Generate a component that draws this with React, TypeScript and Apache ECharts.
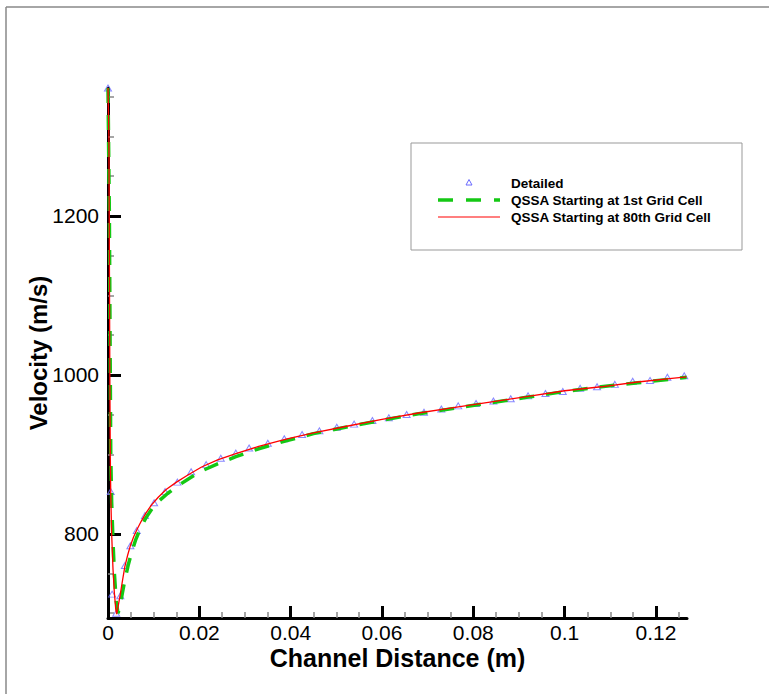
import React, { useEffect, useRef } from "react";
import * as echarts from "echarts";

// ---- data ----
const detailedX = [0, 0.0006, 0.0009, 0.0018, 0.0027, 0.0037, 0.0049, 0.0063, 0.0081, 0.0101, 0.0125, 0.0152, 0.0182, 0.0215, 0.0247, 0.028, 0.0309, 0.035, 0.0386, 0.0425, 0.0463, 0.0501, 0.0539, 0.0579, 0.0615, 0.0654, 0.0692, 0.073, 0.0767, 0.0806, 0.0844, 0.0882, 0.092, 0.0958, 0.0996, 0.1034, 0.1071, 0.111, 0.1149, 0.1187, 0.1225, 0.1262];
const detailedV = [1361, 853, 724, 700, 722, 760, 785, 804, 823, 839, 853, 865, 878, 887, 895, 901.5, 908, 914, 919.5, 925, 929.5, 934, 938, 942.5, 946, 950, 953, 957, 961, 964, 967, 970, 973.5, 976.5, 979, 983, 985, 988, 992, 993, 997, 998.7];

const qssa1stX = [0, 0.0003, 0.0005, 0.0006, 0.0008, 0.0011, 0.0014, 0.0018, 0.0022, 0.0026, 0.0031, 0.0037, 0.0044, 0.0052, 0.0061, 0.0071, 0.0083, 0.0097, 0.0113, 0.0131, 0.0152, 0.0176, 0.0205, 0.024, 0.028, 0.033, 0.039, 0.045, 0.052, 0.06, 0.068, 0.076, 0.084, 0.092, 0.1, 0.108, 0.116, 0.124, 0.1267];
const qssa1stV = [1361, 1200, 1000, 900, 840, 790, 750, 715, 700, 708, 724, 742, 760, 777, 793, 807, 820, 832, 842, 851, 860, 869, 879, 888, 897, 907, 917, 926, 934, 943, 951, 958, 965, 972, 979, 985, 990, 995, 997];

const qssa80thX = [0, 0.0002, 0.0003, 0.0004, 0.0005, 0.0006, 0.0008, 0.0011, 0.0014, 0.0017, 0.0019, 0.0022, 0.0027, 0.0032, 0.0037, 0.0043, 0.0049, 0.0056, 0.0064, 0.0073, 0.0083, 0.0095, 0.011, 0.0128, 0.015, 0.0175, 0.0205, 0.024, 0.028, 0.033, 0.039, 0.045, 0.052, 0.06, 0.068, 0.076, 0.084, 0.092, 0.1, 0.108, 0.116, 0.124, 0.1267];
const qssa80thV = [1361, 1300, 1150, 1000, 900, 850, 800, 755, 725, 705, 699, 708, 724, 742, 759, 773, 785, 796, 806, 816, 826, 836, 846, 856, 865, 874, 884, 893, 901, 910, 919, 927, 935, 944, 952, 959, 966, 973, 980, 985, 991, 996, 997.5];

const xMajorTicks = [0, 0.02, 0.04, 0.06, 0.08, 0.1, 0.12];
const xMinorTicks = [0.005, 0.01, 0.015, 0.025, 0.03, 0.035, 0.045, 0.05, 0.055, 0.065, 0.07, 0.075, 0.085, 0.09, 0.095, 0.105, 0.11, 0.115, 0.125];
const yMajorTicks = [800, 1000, 1200];
const yMinorTicks = [700, 750, 850, 900, 950, 1050, 1100, 1150, 1250, 1300, 1350];

const seriesNames = ["Detailed", "QSSA Starting at 1st Grid Cell", "QSSA Starting at 80th Grid Cell"];

const zip = (xs: number[], ys: number[]) => xs.map((x, i) => [x, ys[i]]);

const TRI_COLOR = "#6a6aff";
const GREEN = "#14c814";
const RED = "#ff0000";

export default function App() {
  const ref = useRef<HTMLDivElement>(null);
  useEffect(() => {
    document.body.style.margin = "0";
    const chart = echarts.init(ref.current!, null, { renderer: "svg" });
    const font = "'Liberation Sans', Arial, sans-serif";
    const xMin = 0, xMax = 0.1268, yMin = 694, yMax = 1361;
    const legendText = (i: number, y: number) => ({
      type: "text", x: 511, y,
      style: { text: seriesNames[i], fontFamily: font, fontWeight: "bold", fontSize: 13.5, fill: "#000", verticalAlign: "middle", align: "left" },
    });
    chart.setOption({
      animation: false,
      backgroundColor: "#fff",
      grid: { left: 108, right: 82, top: 88, bottom: 76 },
      graphic: [
        { type: "line", shape: { x1: 6, y1: 7, x2: 769, y2: 7 }, style: { stroke: "#888", lineWidth: 1.5 } },
        { type: "line", shape: { x1: 6, y1: 7, x2: 6, y2: 694 }, style: { stroke: "#888", lineWidth: 1.5 } },
        { type: "rect", shape: { x: 411, y: 143, width: 331, height: 107 }, style: { fill: "#fff", stroke: "#999", lineWidth: 1 } },
        { type: "polygon", shape: { points: [[466, 185], [472, 185], [469, 179.5]] }, style: { fill: "none", stroke: TRI_COLOR, lineWidth: 1 } },
        { type: "line", shape: { x1: 438, y1: 200, x2: 500, y2: 200 }, style: { stroke: GREEN, lineWidth: 3.5, lineDash: [15, 13] } },
        { type: "line", shape: { x1: 438, y1: 217, x2: 500, y2: 217 }, style: { stroke: RED, lineWidth: 1.2 } },
        legendText(0, 183),
        legendText(1, 200),
        legendText(2, 217),
      ],
      xAxis: [
        {
          type: "value", min: xMin, max: xMax, position: "bottom",
          name: "Channel Distance (m)", nameLocation: "middle", nameGap: 27, nameMoveOverlap: false,
          nameTextStyle: { fontFamily: font, fontWeight: "bold", fontSize: 25, color: "#000" },
          axisLine: { onZero: false, lineStyle: { color: "#000", width: 3 } },
          axisTick: { inside: true, length: 12, customValues: xMajorTicks, lineStyle: { color: "#000", width: 3 } },
          axisLabel: { customValues: xMajorTicks, margin: 4, fontFamily: font, fontSize: 21, color: "#000", formatter: (v: number) => String(+v.toFixed(3)) },
          splitLine: { show: false },
        },
        {
          type: "value", min: xMin, max: xMax, position: "bottom",
          axisLine: { show: false, onZero: false },
          axisTick: { inside: true, length: 6, customValues: xMinorTicks, lineStyle: { color: "#888", width: 1.5 } },
          axisLabel: { show: false },
          splitLine: { show: false },
        },
      ],
      yAxis: [
        {
          type: "value", min: yMin, max: yMax, position: "left",
          name: "Velocity (m/s)", nameLocation: "middle", nameGap: 58, nameMoveOverlap: false,
          nameTextStyle: { fontFamily: font, fontWeight: "bold", fontSize: 24, color: "#000" },
          axisLine: { onZero: false, lineStyle: { color: "#000", width: 3 } },
          axisTick: { inside: true, length: 13, customValues: yMajorTicks, lineStyle: { color: "#000", width: 3 } },
          axisLabel: { customValues: yMajorTicks, margin: 9, fontFamily: font, fontSize: 21, color: "#000", formatter: (v: number) => String(v) },
          splitLine: { show: false },
        },
        {
          type: "value", min: yMin, max: yMax, position: "left",
          axisLine: { show: false, onZero: false },
          axisTick: { inside: true, length: 6, customValues: yMinorTicks, lineStyle: { color: "#888", width: 1.5 } },
          axisLabel: { show: false },
          splitLine: { show: false },
        },
      ],
      series: [
        {
          name: seriesNames[0], type: "scatter", xAxisIndex: 0, yAxisIndex: 0,
          symbol: "triangle", symbolSize: [7, 6],
          itemStyle: { color: "rgba(0,0,0,0)", borderColor: TRI_COLOR, borderWidth: 1 },
          data: zip(detailedX, detailedV), z: 2,
        },
        {
          name: seriesNames[1], type: "line", xAxisIndex: 0, yAxisIndex: 0,
          symbol: "none",
          lineStyle: { color: GREEN, width: 3.5, type: [15, 12] },
          data: zip(qssa1stX, qssa1stV), z: 3,
        },
        {
          name: seriesNames[2], type: "line", xAxisIndex: 0, yAxisIndex: 0,
          symbol: "none",
          lineStyle: { color: RED, width: 1.3 },
          data: zip(qssa80thX, qssa80thV), z: 4,
        },
      ],
    });
    return () => chart.dispose();
  }, []);
  return <div ref={ref} style={{ width: 769, height: 694 }} />;
}
